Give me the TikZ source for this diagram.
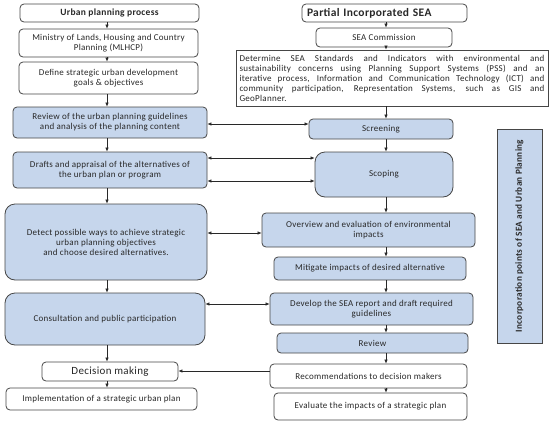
\documentclass[tikz,border=0pt]{standalone}
\usepackage{fontspec}
\setmainfont{Carlito}[LetterSpace=3]
\usetikzlibrary{arrows.meta}
\definecolor{bluefill}{RGB}{198,214,236}
\definecolor{edgec}{RGB}{70,70,70}
\definecolor{txt}{RGB}{40,40,40}
\begin{document}
\begin{tikzpicture}[x=1pt,y=-1pt,
 box/.style={draw=edgec, line width=0.8pt, rounded corners=4pt, fill=white, align=center, inner sep=1pt, font=\fontsize{9}{10}\selectfont, text=txt},
 bbox/.style={box, fill=bluefill},
 big/.style={rounded corners=10pt},
 arr/.style={-{Latex[length=4pt,width=3.5pt]}, line width=0.6pt, draw=txt},
 darr/.style={{Latex[length=4pt,width=3.5pt]}-{Latex[length=4pt,width=3.5pt]}, line width=0.6pt, draw=txt},
]
\useasboundingbox (0,0) rectangle (550,424);
% left column
\node[box, minimum width=179pt, minimum height=18pt, font=\bfseries\fontsize{9.5}{10}\selectfont] (up) at (109.5,13) {Urban planning process};
\node[box, minimum width=179pt, minimum height=28pt] (mlhcp) at (108.5,43) {Ministry of Lands, Housing and Country\\Planning (MLHCP)};
\node[box, minimum width=179pt, minimum height=32pt] (define) at (108.5,78) {Define strategic urban development\\goals \& objectives};
\node[bbox, minimum width=194pt, minimum height=31pt] (review) at (110,122.5) {Review of the urban planning guidelines\\and analysis of the planning content};
\node[bbox, minimum width=194pt, minimum height=36pt] (drafts) at (110,170) {Drafts and appraisal of the alternatives of\\the urban plan or program};
\node[bbox, big, minimum width=202pt, minimum height=76pt] (detect) at (106,242) {Detect possible ways to achieve strategic\\urban planning objectives\\and choose desired alternatives.};
\node[bbox, big, minimum width=200pt, minimum height=52pt] (consult) at (105,319) {Consultation and public participation};
\node[box, minimum width=136pt, minimum height=19pt, font=\fontsize{11}{12}\selectfont] (decision) at (110,371.5) {Decision making};
\node[box, minimum width=191pt, minimum height=22pt] (impl) at (101.5,399) {Implementation of a strategic urban plan};
% right column
\node[box, minimum width=165pt, minimum height=18pt, text width=155pt, align=left, font=\bfseries\fontsize{11.5}{12}\selectfont] (partial) at (384.5,13) {Partial Incorporated SEA};
\node[box, minimum width=136pt, minimum height=19pt] (comm) at (384,37.5) {SEA Commission};
\node[box, rounded corners=0pt, minimum width=312pt, minimum height=56pt, text width=305pt, align=justify, inner sep=3pt] (determine) at (392,78) {Determine SEA Standards and Indicators with environmental and\linebreak sustainability concerns using Planning Support Systems (PSS) and an\linebreak iterative process, Information and Communication Technology (ICT) and\linebreak community participation, Representation Systems, such as GIS and\linebreak GeoPlanner.};
\node[bbox, minimum width=144pt, minimum height=20pt] (screening) at (381,129) {Screening};
\node[bbox, big, minimum width=138pt, minimum height=45pt] (scoping) at (384,174.5) {Scoping};
\node[bbox, rounded corners=0pt, rotate=90, minimum width=214pt, minimum height=45pt, font=\bfseries\fontsize{9.2}{10}\selectfont] (vert) at (519.5,236) {Incorporation points of SEA and Urban Planning};
\node[bbox, minimum width=213pt, minimum height=34pt] (overview) at (368.5,230) {Overview and evaluation of environmental\\impacts};
\node[bbox, minimum width=192pt, minimum height=23pt] (mitigate) at (370,268.5) {Mitigate impacts of desired alternative};
\node[bbox, minimum width=203pt, minimum height=32pt] (develop) at (371.5,309) {Develop the SEA report and draft required\\guidelines};
\node[bbox, minimum width=191pt, minimum height=20pt] (reviewr) at (372.5,343) {Review};
\node[box, minimum width=197pt, minimum height=24pt] (recom) at (368.5,376) {Recommendations to decision makers};
\node[box, minimum width=193pt, minimum height=27pt] (evaluate) at (370.5,406.5) {Evaluate the impacts of a strategic plan};
% guide coordinates
\coordinate (xl) at (107,0);
\coordinate (xr) at (386,0);
\coordinate (h1) at (0,124);
\coordinate (h2) at (0,158);
\coordinate (h3) at (0,181);
\coordinate (h4) at (0,233);
\coordinate (h5) at (0,304);
\coordinate (h6) at (0,371);
% left vertical arrows
\draw[arr] (up.south -| xl) -- (mlhcp.north -| xl);
\draw[arr] (mlhcp.south -| xl) -- (define.north -| xl);
\draw[arr] (define.south -| xl) -- (review.north -| xl);
\draw[arr] (review.south -| xl) -- (drafts.north -| xl);
\draw[arr] (drafts.south -| xl) -- (detect.north -| xl);
\draw[arr] (detect.south -| xl) -- (consult.north -| xl);
\draw[arr] (consult.south -| xl) -- (decision.north -| xl);
\draw[arr] (decision.south -| xl) -- (impl.north -| xl);
% right vertical arrows
\draw[arr] (partial.south -| xr) -- (comm.north -| xr);
\draw[arr] (comm.south -| xr) -- (determine.north -| xr);
\draw[arr] (determine.south -| xr) -- (screening.north -| xr);
\draw[arr] (screening.south -| xr) -- (scoping.north -| xr);
\draw[arr] (scoping.south -| xr) -- (overview.north -| xr);
\draw[arr] (overview.south -| xr) -- (mitigate.north -| xr);
\draw[arr] (mitigate.south -| xr) -- (develop.north -| xr);
\draw[arr] (develop.south -| xr) -- (reviewr.north -| xr);
\draw[arr] (reviewr.south -| xr) -- (recom.north -| xr);
\draw[arr] (recom.south -| xr) -- (evaluate.north -| xr);
% horizontal connectors
\draw[darr] (review.east |- h1) -- (screening.west |- h1);
\draw[darr] (drafts.east |- h2) -- (scoping.west |- h2);
\draw[darr] (drafts.east |- h3) -- (scoping.west |- h3);
\draw[darr] (detect.east |- h4) -- (overview.west |- h4);
\draw[darr] (consult.east |- h5) -- (develop.west |- h5);
\draw[arr] (recom.west |- h6) -- (decision.east |- h6);
\end{tikzpicture}
\end{document}
